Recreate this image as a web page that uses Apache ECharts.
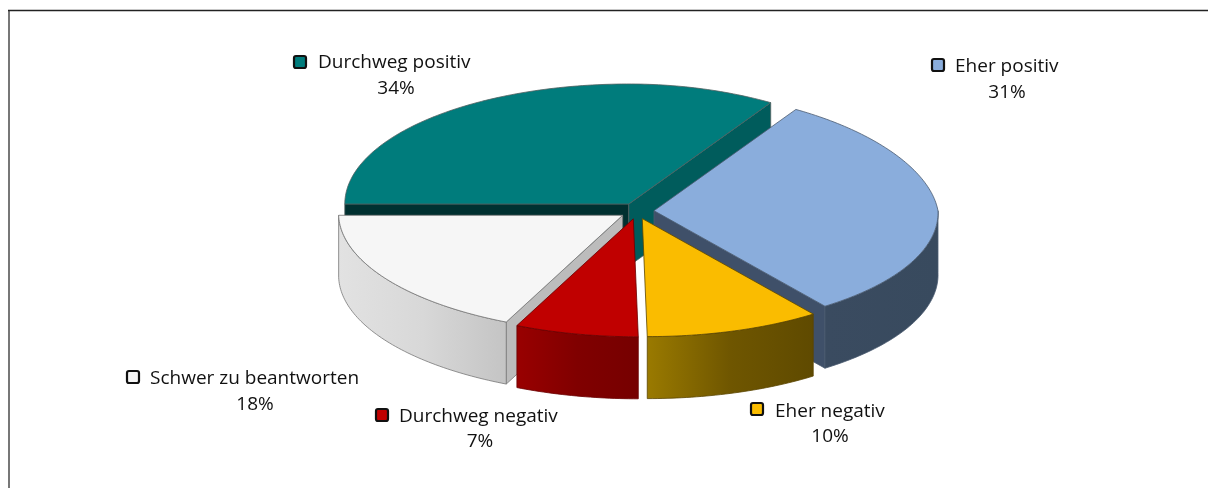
<!DOCTYPE html>
<html>
<head>
<meta charset="utf-8">
<title>Kreisdiagramm</title>
<style>
  html, body { margin: 0; padding: 0; background: #fff; }
  #chart { width: 1208px; height: 488px; }
</style>
<script src="https://cdn.jsdelivr.net/npm/echarts@6/dist/echarts.min.js"></script>
</head>
<body>
<div id="chart"></div>
<script>
  //region    //data
  let categories = ['Durchweg positiv', 'Eher positiv', 'Eher negativ', 'Durchweg negativ', 'Schwer zu beantworten'];
  let values = [34, 31, 10, 7, 18];
  //endregion

  //region    //style
  let topColors = ['#007c7c', '#8aaddc', '#fabc00', '#c00000', '#f6f6f6'];
  let topStrokes = ['#4f5f5f', '#4a5a70', '#5a4500', '#6a0000', '#777777'];
  let startFaceColors = ['#003030', null, null, null, '#bcbcbc'];
  let endFaceColors = ['#005c5c', '#3f5069', null, null, null];
  let wallStops = [
    null,
    ['#3a4b60', '#384a5e'],
    ['#9a7a00', '#6f5600', '#5f4a00'],
    ['#990000', '#800000', '#760000'],
    ['#e2e2e2', '#d8d8d8', '#c4c4c4']
  ];
  let drawOrder = [0, 1, 4, 3, 2];
  // label layout: square x, square y, text x, text y, percent x, percent y
  let labelBoxes = [
    [293, 55, 318, 63, 396, 89],
    [931, 58, 955, 67, 1007, 93],
    [750, 402, 775, 412, 830, 437],
    [375, 408, 399, 417, 480, 442],
    [126, 370, 150, 379, 255, 405]
  ];
  //endregion

  //region    //pie geometry
  let pie = {cx: 637, cy: 211, rx: 284, ryBack: 120, ryFront: 118, frontShift: 5, depth: 62, explodeX: 17, explodeY: 8};
  let total = values.reduce((a, b) => a + b, 0);
  let startAngles = [];
  values.reduce((sum, v, i) => {
    startAngles[i] = (270 + sum / total * 360) % 360;
    return sum + v;
  }, 0);

  function rad(deg) {
    return deg * Math.PI / 180;
  }

  // apex of a slice, pushed out along its middle angle
  function apexOf(i) {
    let mid = rad(startAngles[i] + values[i] / total * 180);
    return [pie.cx + pie.explodeX * Math.sin(mid), pie.cy - pie.explodeY * Math.cos(mid)];
  }

  // angle is clockwise from 12 o'clock; the source picture has a slight perspective
  function rimPoint(apex, deg, dy) {
    let a = rad(deg);
    let s = Math.sin(a), c = Math.cos(a);
    let squeeze = (s > 0 && c > 0) ? 1 - 0.08 * c : 1;
    let shift = c < 0 ? -c * pie.frontShift : 0;
    let ry = c < 0 ? pie.ryFront : pie.ryBack;
    return [apex[0] + pie.rx * s * squeeze + shift, apex[1] - ry * c + dy];
  }

  function arcPoints(apex, from, to, dy) {
    let pts = [];
    let steps = Math.max(2, Math.ceil(Math.abs(to - from)));
    for (let k = 0; k <= steps; k++) {
      pts.push(rimPoint(apex, from + (to - from) * k / steps, dy));
    }
    return pts;
  }

  function sliceElements(i) {
    let apex = apexOf(i);
    let start = startAngles[i];
    let end = start + values[i] / total * 360;
    let z = drawOrder.indexOf(i) * 10;
    let stroke = topStrokes[i];
    let els = [];
    let apexLow = [apex[0], apex[1] + pie.depth];

    let face = (deg, color, z2) => {
      let p = rimPoint(apex, deg, 0);
      els.push({
        type: 'polygon', z2: z2,
        shape: {points: [apex, p, [p[0], p[1] + pie.depth], apexLow]},
        style: {fill: color, stroke: stroke, lineWidth: 0.8}
      });
    };
    if (startFaceColors[i]) face(start, startFaceColors[i], z + 1);
    if (endFaceColors[i]) face(end, endFaceColors[i], z + 1);

    // outer wall, only the part turned to the viewer
    let from = Math.max(start, 90), to = Math.min(end, 270);
    if (wallStops[i] && to > from) {
      let stops = wallStops[i].map((color, k, arr) => ({offset: k / (arr.length - 1), color: color}));
      els.push({
        type: 'polygon', z2: z + 2,
        shape: {points: arcPoints(apex, from, to, 0).concat(arcPoints(apex, to, from, pie.depth))},
        style: {fill: new echarts.graphic.LinearGradient(0, 0, 1, 0, stops), stroke: stroke, lineWidth: 0.8}
      });
    }

    els.push({
      type: 'polygon', z2: z + 3,
      shape: {points: [apex].concat(arcPoints(apex, start, end, 0))},
      style: {fill: topColors[i], stroke: stroke, lineWidth: 0.8}
    });
    return els;
  }

  function labelElements(i) {
    let box = labelBoxes[i];
    let font = {fontFamily: '"Open Sans"', fontSize: 19, fill: '#111'};
    return [
      {
        type: 'rect', z2: 100,
        shape: {x: box[0] + 1, y: box[1] + 1, width: 12, height: 12, r: 2},
        style: {fill: topColors[i], stroke: '#111', lineWidth: 2.2}
      },
      {
        type: 'text', z2: 100, x: box[2], y: box[3],
        style: Object.assign({text: categories[i], textAlign: 'left', textVerticalAlign: 'middle'}, font)
      },
      {
        type: 'text', z2: 100, x: box[4], y: box[5],
        style: Object.assign({text: values[i] + '%', textAlign: 'center', textVerticalAlign: 'middle'}, font)
      }
    ];
  }
  //endregion

  //region    //chart
  let echart = echarts.init(document.getElementById('chart'), null, {renderer: 'canvas'});

  let option = {
    animation: false,
    backgroundColor: '#fff',
    graphic: {
      elements: [
        {type: 'line', shape: {x1: 9, y1: 10, x2: 9, y2: 488}, style: {stroke: '#777', lineWidth: 2}, silent: true},
        {type: 'line', shape: {x1: 8, y1: 10.5, x2: 1208, y2: 10.5}, style: {stroke: '#222', lineWidth: 1.4}, silent: true}
      ]
    },
    series: [
      {
        type: 'custom',
        coordinateSystem: 'none',
        silent: true,
        data: values,
        renderItem(params) {
          return {
            type: 'group',
            children: sliceElements(params.dataIndex).concat(labelElements(params.dataIndex))
          };
        }
      }
    ]
  };

  echart.setOption(option);
  //endregion
</script>
</body>
</html>
